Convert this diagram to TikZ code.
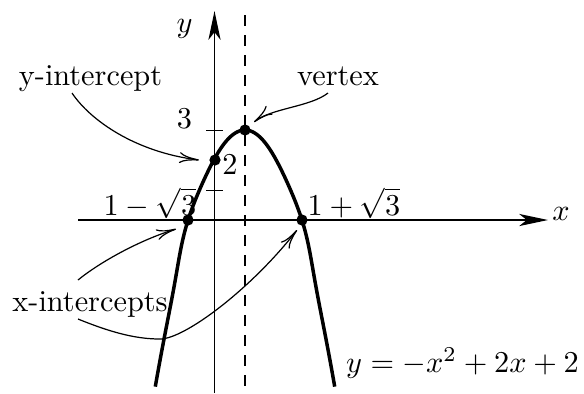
\documentclass[tikz,border=0pt]{standalone}
\usetikzlibrary{arrows.meta}
\begin{document}
\begin{tikzpicture}[x=0.33pt,y=-0.33pt,
  axis/.style={line width=0.5pt,-{Stealth[length=9.5pt,width=4pt,inset=2.5pt]}},
  curve/.style={line width=1.15pt},
  ann/.style={line width=0.4pt,-{Computer Modern Rightarrow[length=6.5pt,width=3.6pt]}},
  dot/.style={circle,fill=black,inner sep=0pt,minimum size=3.7pt},
  lbl/.style={anchor=base,inner sep=0pt},
  tick/.style={line width=0.5pt}]
\useasboundingbox (0,0) rectangle (584,393);
% axes
\coordinate (xs) at (78,220);
\coordinate (xe) at (548,220);
\coordinate (ys) at (214.5,393);
\coordinate (ye) at (214.5,11);
\draw[axis] (xs) -- (xe);
\draw[axis] (ys) -- (ye);
% dashed axis of symmetry
\coordinate (ds) at (245,15);
\coordinate (de) at (245,387);
\draw[line width=0.5pt,dash pattern=on 3.6pt off 3pt] (ds) -- (de);
% ticks
\coordinate (t1a) at (206,190.5); \coordinate (t1b) at (223,190.5);
\coordinate (t3a) at (206,130.5); \coordinate (t3b) at (223,130.5);
\draw[tick] (t1a) -- (t1b);
\draw[tick] (t3a) -- (t3b);
% parabola
\draw[curve] plot[smooth,domain=-16.02:16.02,samples=121,variable=\s]
  ({245+\s*(5.6+0.4*exp(-((\s*\s-90)/50)^2))},{130+\s*\s});
% points
\node[dot] (V) at (245,130) {};
\node[dot] (Y) at (215,160) {};
\node[dot] (L) at (188,220) {};
\node[dot] (R) at (302,220) {};
% labels
\node[lbl] (xl) at (561,220) {$x$};
\node[lbl] (yl) at (184.7,32) {$y$};
\node[lbl] (l3) at (184.5,128.5) {$3$};
\node[lbl] (l2) at (230,174.5) {$2$};
\node[lbl] (lm) at (150,215) {$1-\sqrt{3}$};
\node[lbl] (lp) at (354,215) {$1+\sqrt{3}$};
\node[lbl] (eq) at (462.5,372) {$y=-x^2+2x+2$};
\node[lbl] (yi) at (90.5,85) {y-intercept};
\node[lbl] (vx) at (338,85) {vertex};
\node[lbl] (xi) at (90,311.5) {x-intercepts};
% annotation arrows
\coordinate (a1s) at (72,93);   \coordinate (a1e) at (199,160);
\coordinate (a2s) at (328,93);  \coordinate (a2e) at (254,122);
\coordinate (a3s) at (78,280);  \coordinate (a3e) at (176,229);
\coordinate (a4s) at (78,319);  \coordinate (a4m) at (160,339); \coordinate (a4e) at (297,230);
\draw[ann] (a1s) .. controls (90,120) and (135,152) .. (a1e);
\draw[ann] (a2s) .. controls (310,107) and (272,108) .. (a2e);
\draw[ann] (a3s) .. controls (100,262) and (140,240) .. (a3e);
\draw[ann] (a4s) .. controls (110,332) and (135,339) .. (a4m) .. controls (185,339) and (252,288) .. (a4e);
\end{tikzpicture}
\end{document}
